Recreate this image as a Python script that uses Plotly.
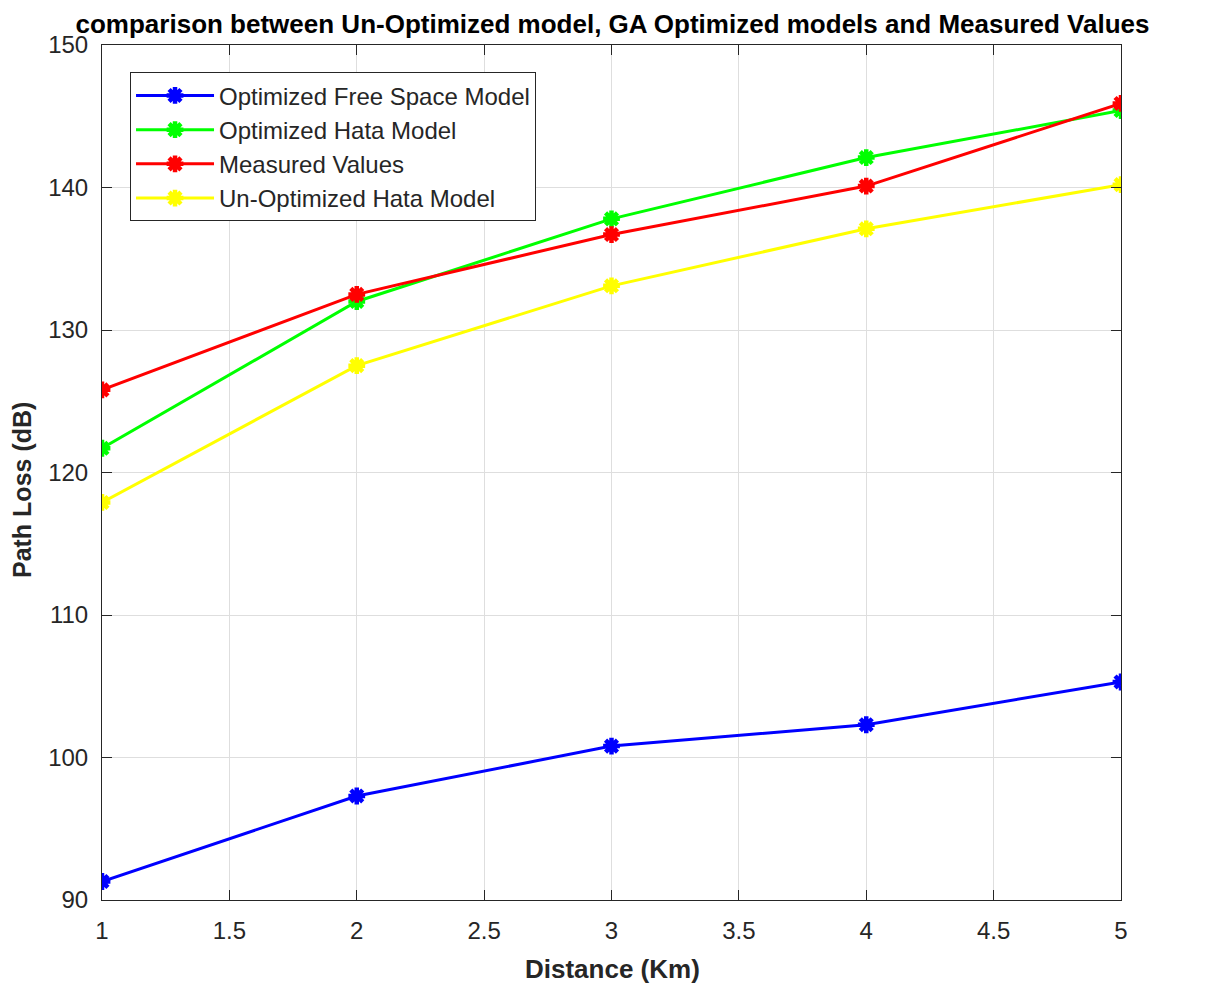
import plotly.graph_objects as go

distance = [1, 2, 3, 4, 5]
free_space_opt = [91.3, 97.3, 100.8, 102.3, 105.3]
hata_opt = [121.7, 132.0, 137.8, 142.1, 145.4]
measured = [125.8, 132.5, 136.7, 140.1, 145.9]
hata_unopt = [117.9, 127.5, 133.1, 137.1, 140.2]

series = [
    ("Optimized Free Space Model", free_space_opt, "#0000ff"),
    ("Optimized Hata Model", hata_opt, "#00ff00"),
    ("Measured Values", measured, "#ff0000"),
    ("Un-Optimized Hata Model", hata_unopt, "#ffff00"),
]

fig = go.Figure()
for name, vals, col in series:
    fig.add_trace(go.Scatter(
        x=distance, y=vals, name=name, mode="lines+markers",
        line=dict(color=col, width=3),
        marker=dict(symbol="asterisk", size=14, color=col, line=dict(color=col, width=4.5)),
    ))

axis_common = dict(
    showline=True, linecolor="#262626", linewidth=1, mirror="ticks",
    ticks="inside", ticklen=10, tickcolor="#262626",
    showgrid=True, gridcolor="#dedede", gridwidth=1,
    zeroline=False, automargin=False,
    tickfont=dict(family="Arial, Liberation Sans", size=24, color="#262626"),
)

W, H = 1209, 978
fig.update_layout(
    width=W, height=H,
    paper_bgcolor="white", plot_bgcolor="white",
    margin=dict(l=94, r=96, t=37, b=86),
    title=dict(
        text="<b>comparison between Un-Optimized model, GA Optimized models and Measured Values</b>",
        font=dict(family="Liberation Sans Narrow, Arial Narrow, Arial", size=26, color="black"),
        x=0.5, xanchor="center", y=1 - 16 / H, yanchor="middle",
    ),
    xaxis=dict(
        range=[1, 5], tickvals=[1, 1.5, 2, 2.5, 3, 3.5, 4, 4.5, 5],
        ticktext=["1", "1.5", "2", "2.5", "3", "3.5", "4", "4.5", "5"],
        ticklabelstandoff=9,
        **axis_common,
    ),
    yaxis=dict(
        range=[90, 150], tickvals=[90, 100, 110, 120, 130, 140, 150],
        ticklabelstandoff=8,
        **axis_common,
    ),
    legend=dict(
        x=0.0275, y=0.968, xanchor="left", yanchor="top",
        bgcolor="white", bordercolor="#262626", borderwidth=1,
        font=dict(family="Arial, Liberation Sans", size=24, color="#262626"),
        tracegroupgap=0, itemwidth=78,
    ),
    showlegend=True,
)

fig.add_annotation(
    text="<b>Path Loss (dB)</b>", xref="paper", yref="paper",
    x=-0.0785, y=0.4795, xanchor="center", yanchor="middle",
    textangle=-90, showarrow=False,
    font=dict(family="Arial, Liberation Sans", size=25, color="#262626"),
)
fig.add_annotation(
    text="<b>Distance (Km)</b>", xref="paper", yref="paper",
    x=0.5005, y=-0.0807, xanchor="center", yanchor="middle",
    showarrow=False,
    font=dict(family="Arial, Liberation Sans", size=26, color="#262626"),
)

fig.write_html("out.html")
